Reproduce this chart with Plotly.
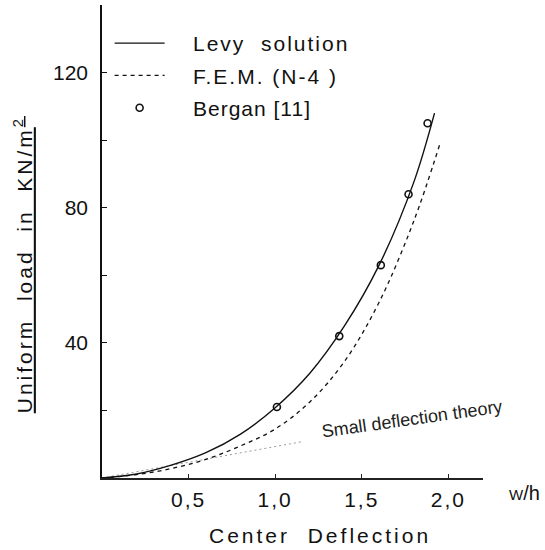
import plotly.graph_objects as go

# ---- data ----
levy_w = [0.0, 0.2, 0.4, 0.6, 0.8, 1.0, 1.2, 1.4, 1.6, 1.8, 1.92]
levy_q = [0.0, 1.2, 3.8, 7.5, 13.0, 20.8, 31.0, 45.0, 63.0, 87.5, 108.0]

fem_w = [0.0, 0.2, 0.4, 0.6, 0.8, 1.0, 1.2, 1.4, 1.6, 1.8, 1.95]
fem_q = [0.0, 1.0, 2.8, 5.5, 9.5, 14.5, 22.5, 34.5, 52.0, 76.0, 98.7]

bergan_w = [1.01, 1.37, 1.61, 1.77, 1.88]
bergan_q = [21.0, 42.0, 63.0, 84.0, 105.0]

small_w = [0.0, 0.4, 0.79, 1.15]
small_q = [0.0, 3.7, 7.4, 10.7]

x_tickvals = [0.5, 1.0, 1.5, 2.0]
x_ticktext = ["0,5", "1,0", "1,5", "2,0"]
y_tickvals = [40, 80, 120]
y_ticktext = ["40", "80", "120"]

FONT = "Liberation Sans"
INK = "#111111"
PAD = "\u00a0\u00a0\u00a0\u00a0"

def ls(txt, px):
    return f"<span style='letter-spacing:{px}px'>{txt}</span>"

fig = go.Figure()

fig.add_trace(go.Scatter(
    x=small_w, y=small_q, mode="lines", showlegend=False,
    line=dict(color="#9a9a9a", width=1, dash="2px,3px"), hoverinfo="skip"))

fig.add_trace(go.Scatter(
    x=levy_w, y=levy_q, mode="lines", name=PAD + ls("Levy\u00a0\u00a0solution", 2),
    legendgroup="a", line=dict(color=INK, width=1.4, shape="spline", smoothing=1.0)))

fig.add_trace(go.Scatter(
    x=fem_w, y=fem_q, mode="lines", name=PAD + ls("F.E.M.\u00a0(N-4\u00a0)", 2),
    legendgroup="b", line=dict(color=INK, width=1.3, dash="4px,4px", shape="spline", smoothing=1.0)))

fig.add_trace(go.Scatter(
    x=bergan_w, y=bergan_q, mode="markers", name=PAD + ls("Bergan\u00a0[11]", 1),
    legendgroup="c",
    marker=dict(symbol="circle-open", size=7, color=INK, line=dict(width=1.6, color=INK))))

fig.update_layout(
    width=545, height=550,
    margin=dict(l=102, r=62, t=5, b=72),
    paper_bgcolor="white", plot_bgcolor="white",
    font=dict(family=FONT, size=21, color=INK),
    showlegend=True,
    legend=dict(x=0.02, y=0.962, xanchor="left", yanchor="top",
                bgcolor="rgba(0,0,0,0)", borderwidth=0,
                itemwidth=50, tracegroupgap=2, traceorder="grouped",
                font=dict(family=FONT, size=21, color=INK)),
    xaxis=dict(range=[0, 2.2], showline=True, linecolor="#222", linewidth=1.5,
               ticks="inside", ticklen=4, tickcolor="#222",
               tickvals=x_tickvals, ticktext=[ls(t, 2) for t in x_ticktext],
               showgrid=False, zeroline=False, ticklabelstandoff=2,
               tickfont=dict(family=FONT, size=21, color=INK)),
    yaxis=dict(range=[0, 140], showline=True, linecolor="#111", linewidth=1.6,
               ticks="inside", ticklen=5, tickcolor="#111",
               tickvals=y_tickvals, ticktext=y_ticktext,
               minor=dict(ticks="inside", ticklen=5, tickcolor="#111", tick0=0, dtick=20),
               showgrid=False, zeroline=False, ticklabelstandoff=8,
               tickfont=dict(family=FONT, size=21, color=INK)),
    annotations=[
        dict(text=ls("Center\u00a0\u00a0Deflection", 3), xref="paper", yref="paper",
             x=0.572, y=-0.1226, xanchor="center", yanchor="middle", showarrow=False,
             font=dict(family=FONT, size=21, color=INK)),
        dict(text="<u>" + ls("Uniform\u00a0\u00a0load\u00a0\u00a0in\u00a0\u00a0KN/m<sup>2</sup>", 3) + "</u>",
             xref="paper", yref="paper", x=-0.207, y=0.45, xanchor="center", yanchor="middle",
             textangle=-90, showarrow=False, font=dict(family=FONT, size=21, color=INK)),
        dict(text="<span style='font-size:15px'>W</span>/h", xref="paper", yref="paper",
             x=1.155, y=-0.032, xanchor="right", yanchor="middle", showarrow=False,
             font=dict(family=FONT, size=20, color=INK)),
        dict(text="Small deflection theory", x=1.79, y=17.4, xref="x", yref="y",
             textangle=-8, showarrow=False, xanchor="center", yanchor="middle",
             font=dict(family=FONT, size=18, color="#222")),
    ],
)

fig.write_html("out.html")
